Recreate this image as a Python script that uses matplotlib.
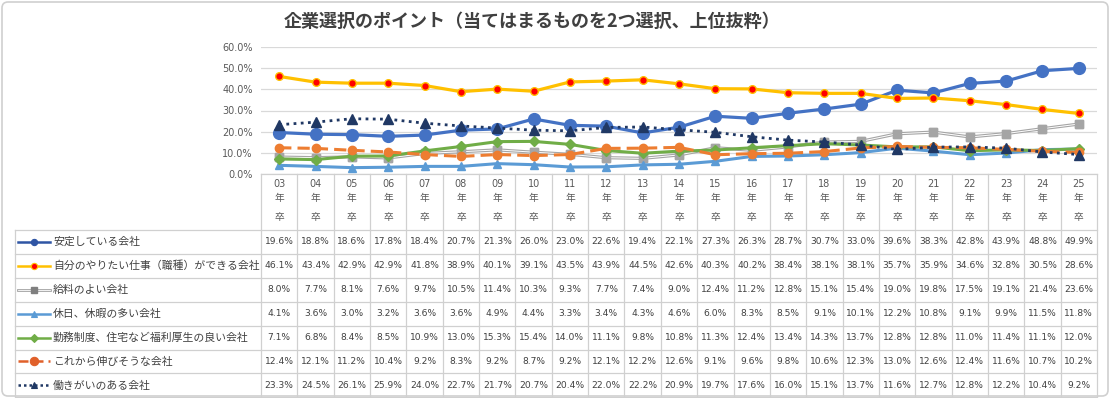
import matplotlib
matplotlib.use("Agg")
import matplotlib.pyplot as plt
from matplotlib.patches import FancyBboxPatch
from matplotlib.lines import Line2D

plt.rcParams["font.family"] = ["Noto Sans CJK JP", "DejaVu Sans"]

TITLE = "企業選択のポイント（当てはまるものを2つ選択、上位抜粋）"
years = ["03", "04", "05", "06", "07", "08", "09", "10", "11", "12", "13", "14",
         "15", "16", "17", "18", "19", "20", "21", "22", "23", "24", "25"]

names = [
    "安定している会社",
    "自分のやりたい仕事（職種）ができる会社",
    "給料のよい会社",
    "休日、休暇の多い会社",
    "勤務制度、住宅など福利厚生の良い会社",
    "これから伸びそうな会社",
    "働きがいのある会社",
]
antei = [19.6, 18.8, 18.6, 17.8, 18.4, 20.7, 21.3, 26.0, 23.0, 22.6, 19.4, 22.1,
         27.3, 26.3, 28.7, 30.7, 33.0, 39.6, 38.3, 42.8, 43.9, 48.8, 49.9]
yaritai = [46.1, 43.4, 42.9, 42.9, 41.8, 38.9, 40.1, 39.1, 43.5, 43.9, 44.5, 42.6,
           40.3, 40.2, 38.4, 38.1, 38.1, 35.7, 35.9, 34.6, 32.8, 30.5, 28.6]
kyuryo = [8.0, 7.7, 8.1, 7.6, 9.7, 10.5, 11.4, 10.3, 9.3, 7.7, 7.4, 9.0,
          12.4, 11.2, 12.8, 15.1, 15.4, 19.0, 19.8, 17.5, 19.1, 21.4, 23.6]
kyujitsu = [4.1, 3.6, 3.0, 3.2, 3.6, 3.6, 4.9, 4.4, 3.3, 3.4, 4.3, 4.6,
            6.0, 8.3, 8.5, 9.1, 10.1, 12.2, 10.8, 9.1, 9.9, 11.5, 11.8]
fukuri = [7.1, 6.8, 8.4, 8.5, 10.9, 13.0, 15.3, 15.4, 14.0, 11.1, 9.8, 10.8,
          11.3, 12.4, 13.4, 14.3, 13.7, 12.8, 12.8, 11.0, 11.4, 11.1, 12.0]
nobiso = [12.4, 12.1, 11.2, 10.4, 9.2, 8.3, 9.2, 8.7, 9.2, 12.1, 12.2, 12.6,
          9.1, 9.6, 9.8, 10.6, 12.3, 13.0, 12.6, 12.4, 11.6, 10.7, 10.2]
hatarakigai = [23.3, 24.5, 26.1, 25.9, 24.0, 22.7, 21.7, 20.7, 20.4, 22.0, 22.2, 20.9,
               19.7, 17.6, 16.0, 15.1, 13.7, 11.6, 12.7, 12.8, 12.2, 10.4, 9.2]
series = [antei, yaritai, kyuryo, kyujitsu, fukuri, nobiso, hatarakigai]

# style per series
styles = [
    dict(color="#4472C4", lw=2.3, ls="-", marker="o", ms=8.5, mfc="#4472C4", mec="#4472C4"),
    dict(color="#FFC000", lw=2.3, ls="-", marker="o", ms=5.5, mfc="#FF0000", mec="#FFC000"),
    dict(color="#A5A5A5", lw=2.3, ls="-", marker="s", ms=5.5, mfc="#A5A5A5", mec="#A5A5A5"),
    dict(color="#5B9BD5", lw=2.2, ls="-", marker="^", ms=6, mfc="#5B9BD5", mec="#5B9BD5"),
    dict(color="#70AD47", lw=2.2, ls="-", marker="D", ms=5, mfc="#70AD47", mec="#70AD47"),
    dict(color="#ED7D31", lw=2.2, ls=(0, (4, 2)), marker="o", ms=6, mfc="#ED7D31", mec="#ED7D31"),
    dict(color="#203864", lw=2.0, ls=(0, (1, 1.6)), marker="^", ms=7, mfc="#203864", mec="#203864"),
]
leg_colors = ["#2F55A4", "#FFC000", "#A5A5A5", "#5B9BD5", "#70AD47", "#E0602A", "#203864"]

W, H = 1110, 398
fig = plt.figure(figsize=(W / 100, H / 100), dpi=100)

# pixel geometry
x0, x1 = 261, 1097
y_top, y_bot = 47, 174
row_top = 230
row_h = 23.9
leg_left = 15
ncol = len(years)
cw = (x1 - x0) / ncol

# overlay axes in pixel coords
bg = fig.add_axes([0, 0, 1, 1])
bg.set_xlim(0, W)
bg.set_ylim(H, 0)
bg.axis("off")
bg.add_patch(FancyBboxPatch((2, 2), W - 4, H - 4, boxstyle="round,pad=0,rounding_size=6",
                            fc="white", ec="#D0D0D0", lw=1.2))

ax = fig.add_axes([x0 / W, 1 - y_bot / H, (x1 - x0) / W, (y_bot - y_top) / H])
ax.set_xlim(-0.5, ncol - 0.5)
ax.set_ylim(0, 60)
ax.patch.set_alpha(0)
for s in ax.spines.values():
    s.set_visible(False)
ax.set_yticks(range(0, 61, 10))
ax.set_yticklabels([f"{v:.1f}%" for v in range(0, 61, 10)], fontsize=7, color="#595959",
                   family="DejaVu Sans")
ax.tick_params(axis="y", length=0, pad=6)
ax.set_xticks([])
ax.grid(axis="y", color="#D9D9D9", lw=0.9)
ax.set_axisbelow(True)

xs = list(range(ncol))
for i, (vals, st) in enumerate(zip(series, styles)):
    ax.plot(xs, vals, color=st["color"], lw=st["lw"], ls=st["ls"], marker=st["marker"],
            ms=st["ms"], mfc=st["mfc"], mec=st["mec"], mew=1.0, zorder=3 + i)
    if i == 2:
        ax.plot(xs, vals, color="white", lw=0.7, zorder=3 + i)
        ax.plot(xs, vals, ls="none", marker="s", ms=5.5, mfc="#A5A5A5", mec="#A5A5A5",
                zorder=3 + i)

fig.text(532 / W, 1 - 21 / H, TITLE, ha="center", va="center", fontsize=13,
         fontweight="bold", color="#404040")

# table grid
gc = "#D0D0D0"
for k in range(ncol + 1):
    xx = x0 + k * cw
    bg.plot([xx, xx], [y_bot, H - 2], color=gc, lw=0.9)
bg.plot([x0, x1], [y_bot, y_bot], color=gc, lw=0.9)
for r in range(len(series) + 1):
    yy = row_top + r * row_h
    bg.plot([leg_left, x1], [yy, yy], color=gc, lw=0.9)
bg.plot([leg_left, leg_left], [row_top, H - 2], color=gc, lw=0.9)

for k, yr in enumerate(years):
    cx = x0 + (k + 0.5) * cw
    bg.text(cx, 184, yr, ha="center", va="center", fontsize=7, color="#595959",
            family="DejaVu Sans")
    bg.text(cx, 198, "年", ha="center", va="center", fontsize=7, color="#595959")
    bg.text(cx, 217, "卒", ha="center", va="center", fontsize=7, color="#595959")

for r, (name, vals, st) in enumerate(zip(names, series, styles)):
    cy = row_top + (r + 0.5) * row_h
    lc = leg_colors[r]
    if r == 2:
        bg.plot([18, 50], [cy, cy], color=lc, lw=2.0)
        bg.plot([18, 50], [cy, cy], color="white", lw=0.6)
        bg.plot([34], [cy], marker="s", ms=4.5, color="#7F7F7F")
    else:
        ls = st["ls"]
        if r == 6:
            ls = (0, (1, 1.2))
        bg.add_line(Line2D([18, 50], [cy, cy], color=lc, lw=1.8, ls=ls))
        mfc = st["mfc"] if r not in (0, 5) else lc
        bg.plot([34], [cy], marker=st["marker"], ms=4.5 if r != 5 else 6, mfc=mfc,
                mec=lc if r != 1 else "#FFC000", mew=0.8)
    bg.text(53, cy, name, ha="left", va="center", fontsize=7.8, color="#404040")
    for k, v in enumerate(vals):
        cx = x0 + (k + 0.5) * cw
        bg.text(cx, cy, f"{v:.1f}%", ha="center", va="center", fontsize=6.6,
                color="#404040", family="DejaVu Sans")

fig.savefig("out.png", dpi=100)
